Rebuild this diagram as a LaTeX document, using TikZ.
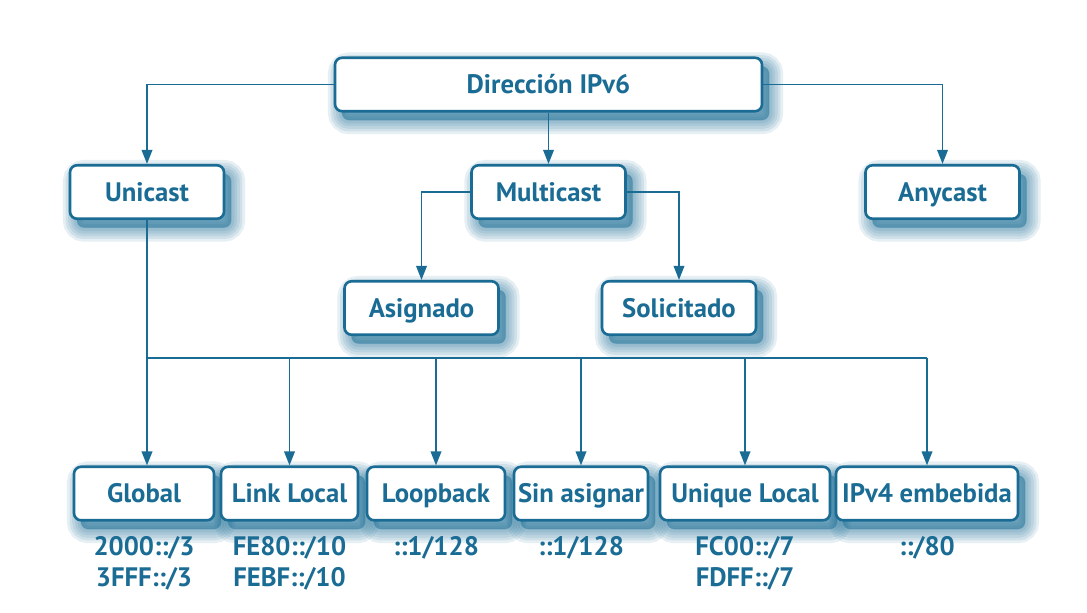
\documentclass[tikz,border=0pt]{standalone}
\usepackage{fontspec}
\setmainfont{PT Sans}
\usetikzlibrary{arrows.meta,shadows}
\definecolor{ipblue}{RGB}{26,108,148}
\tikzset{
  softshadow/.style={general shadow={draw=ipblue,fill=ipblue,line width=#1,
    opacity=.11,shadow xshift=4pt,shadow yshift=-5pt}},
  box/.style={draw=ipblue,line width=1.5pt,rounded corners=4pt,fill=white,
    text=ipblue,font=\bfseries\fontsize{15.2}{18}\selectfont,
    minimum height=1.07cm,inner sep=1pt,text height=11pt,text depth=0.4pt,
    softshadow=16pt,softshadow=13pt,softshadow=10pt,softshadow=7pt,
    softshadow=4pt,softshadow=1pt},
  pfx/.style={text=ipblue,font=\bfseries\fontsize{15.2}{17.6}\selectfont,align=center,anchor=north},
  link/.style={draw=ipblue,line width=1.1pt},
  arr/.style={link,-{Triangle[length=8pt,width=6pt]}}
}
\begin{document}
\begin{tikzpicture}
  \useasboundingbox (0,0) rectangle (21.74,-12.24);
  \node [box,minimum width=8.54cm] (dir) at (10.97,-1.69) {Dirección IPv6};
  \node [box,minimum width=3.08cm] (unicast) at (2.94,-3.84) {Unicast};
  \node [box,minimum width=3.08cm] (multicast) at (10.97,-3.84) {Multicast};
  \node [box,minimum width=3.08cm] (anycast) at (18.85,-3.84) {Anycast};
  \node [box,minimum width=3.08cm] (asignado) at (8.43,-6.16) {Asignado};
  \node [box,minimum width=3.08cm] (solicitado) at (13.58,-6.16) {Solicitado};

  \node [box,minimum width=2.8cm] (global) at (2.88,-9.87) {Global};
  \node [box,minimum width=2.74cm] (linklocal) at (5.79,-9.87) {Link Local};
  \node [box,minimum width=2.76cm] (loopback) at (8.72,-9.87) {Loopback};
  \node [box,minimum width=2.68cm] (sinasignar) at (11.62,-9.87) {Sin asignar};
  \node [box,minimum width=3.4cm] (uniquelocal) at (14.9,-9.87) {Unique Local};
  \node [box,minimum width=3.64cm] (ipvfour) at (18.54,-9.87) {IPv4 embebida};

  % prefixes
  \node [pfx] (globalpfx) at (2.88,-10.6) {2000::/3\\3FFF::/3};
  \node [pfx] (linklocalpfx) at (5.79,-10.6) {FE80::/10\\FEBF::/10};
  \node [pfx] (loopbackpfx) at (8.72,-10.6) {::1/128};
  \node [pfx] (sinasignarpfx) at (11.62,-10.6) {::1/128};
  \node [pfx] (uniquelocalpfx) at (14.9,-10.6) {FC00::/7\\FDFF::/7};
  \node [pfx] (ipvfourpfx) at (18.54,-10.6) {::/80};

  \draw [arr] (dir.west) -| (unicast.north);
  \draw [arr] (dir.east) -| (anycast.north);
  \draw [arr] (dir) -- (multicast);
  \draw [arr] (multicast.west) -| (asignado.north);
  \draw [arr] (multicast.east) -| (solicitado.north);

  \coordinate (bus) at (0,-7.16);
  \draw [link] (unicast) -- (unicast |- bus) -- (ipvfour |- bus);
  \draw [arr] (unicast |- bus) -- (unicast |- global.north);
  \foreach \b in {linklocal,loopback,sinasignar,uniquelocal,ipvfour}
    \draw [arr] (\b |- bus) -- (\b.north);
\end{tikzpicture}
\end{document}
